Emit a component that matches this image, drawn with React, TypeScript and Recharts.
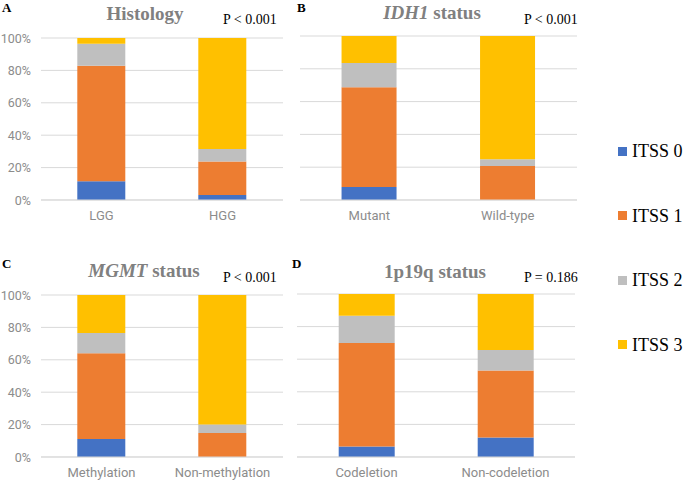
import React from "react";
import { BarChart, Bar, XAxis, YAxis, CartesianGrid } from "recharts";

const itssNames = ["ITSS 0", "ITSS 1", "ITSS 2", "ITSS 3"];
const itssColors = ["#4472C4", "#ED7D31", "#BFBFBF", "#FFC000"];
const yTicks = [0, 20, 40, 60, 80, 100];

// each row = one ITSS level, values per category (percent)
const histologyCategories = ["LGG", "HGG"];
const histologyValues = [
  [11.5, 3.1],
  [71.4, 20.6],
  [13.6, 7.8],
  [3.5, 68.5],
];

const idh1Categories = ["Mutant", "Wild-type"];
const idh1Values = [
  [7.9, 0],
  [60.8, 20.7],
  [14.8, 4.1],
  [16.5, 75.2],
];

const mgmtCategories = ["Methylation", "Non-methylation"];
const mgmtValues = [
  [11.1, 0],
  [53.0, 14.8],
  [12.4, 5.2],
  [23.5, 80.0],
];

const codelCategories = ["Codeletion", "Non-codeletion"];
const codelValues = [
  [6.5, 11.9],
  [63.4, 41.1],
  [16.8, 12.6],
  [13.3, 34.4],
];

const pValues = ["P < 0.001", "P < 0.001", "P < 0.001", "P = 0.186"];

function buildRows(categories: string[], values: number[][]) {
  return categories.map((c, i) => {
    const row: any = { name: c };
    itssNames.forEach((n, k) => {
      row[n] = values[k][i];
    });
    return row;
  });
}

const tickFont = "Roboto, 'Liberation Sans', sans-serif";
const serif = "'Liberation Serif', 'DejaVu Serif', serif";

function XTick(props: any) {
  const { x, y, payload } = props;
  return (
    <text x={x} y={y + 20} textAnchor="middle" fill="#8c8c8c" fontSize={13} fontFamily={tickFont}>
      {payload.value}
    </text>
  );
}

function YTick(props: any) {
  const { x, y, payload } = props;
  return (
    <text x={x - 10} y={y + 4.5} textAnchor="end" fill="#8c8c8c" fontSize={12.5} fontFamily={tickFont}>
      {payload.value + "%"}
    </text>
  );
}

function Panel(props: any) {
  const { left, top, width, height, margin, showY, xHeight, categories, values } = props;
  const data = buildRows(categories, values);
  return (
    <div style={{ position: "absolute", left, top }}>
      <BarChart width={width} height={height} data={data} margin={margin} barCategoryGap="30%">
        <CartesianGrid vertical={false} stroke="#d9d9d9" />
        <XAxis
          dataKey="name"
          height={xHeight}
          tickLine={false}
          tickSize={0}
          tickMargin={0}
          axisLine={{ stroke: "#d9d9d9" }}
          tick={<XTick />}
          interval={0}
        />
        <YAxis
          hide={!showY}
          width={showY ? 41 : 0}
          domain={[0, 100]}
          ticks={yTicks}
          axisLine={false}
          tickLine={false}
          tickSize={0}
          tickMargin={0}
          tick={<YTick />}
        />
        {itssNames.map((n, k) => (
          <Bar key={n} dataKey={n} stackId="a" fill={itssColors[k]} isAnimationActive={false} />
        ))}
      </BarChart>
    </div>
  );
}

// y is the text baseline
function Txt(props: any) {
  const { x, y, size, children, bold, color, anchor } = props;
  return (
    <div
      style={{
        position: "absolute",
        left: anchor === "middle" ? x - 150 : x,
        width: anchor === "middle" ? 300 : undefined,
        textAlign: anchor === "middle" ? "center" : "left",
        top: Math.max(0, y - 0.9125 * size),
        fontSize: size,
        lineHeight: `${size * 1.15}px`,
        fontFamily: serif,
        fontWeight: bold ? "bold" : "normal",
        color: color || "#000",
        whiteSpace: "nowrap",
      }}
    >
      {children}
    </div>
  );
}

export default function App() {
  return (
    <div style={{ position: "absolute", left: 0, top: 0, width: 685, height: 481, background: "#fff", overflow: "hidden" }}>
      <Panel
        left={0}
        top={0}
        width={290}
        height={230}
        margin={{ top: 38, right: 7, left: 0, bottom: 0 }}
        showY
        xHeight={30}
        categories={histologyCategories}
        values={histologyValues}
      />
      <Panel
        left={285}
        top={0}
        width={300}
        height={230}
        margin={{ top: 36, right: 8, left: 15, bottom: 0 }}
        showY={false}
        xHeight={30}
        categories={idh1Categories}
        values={idh1Values}
      />
      <Panel
        left={0}
        top={235}
        width={290}
        height={246}
        margin={{ top: 60, right: 7, left: 0, bottom: 0 }}
        showY
        xHeight={24}
        categories={mgmtCategories}
        values={mgmtValues}
      />
      <Panel
        left={285}
        top={235}
        width={300}
        height={246}
        margin={{ top: 59, right: 10, left: 12, bottom: 0 }}
        showY={false}
        xHeight={24}
        categories={codelCategories}
        values={codelValues}
      />

      {/* panel letters */}
      <Txt x={2} y={13} size={13} bold>A</Txt>
      <Txt x={297} y={13} size={13} bold>B</Txt>
      <Txt x={2} y={269} size={13} bold>C</Txt>
      <Txt x={292} y={269} size={13} bold>D</Txt>

      {/* titles */}
      <Txt x={145} y={20} size={19} bold color="#808080" anchor="middle">Histology</Txt>
      <Txt x={432} y={19} size={19} bold color="#808080" anchor="middle">
        <i>IDH1</i> status
      </Txt>
      <Txt x={144} y={277} size={19} bold color="#808080" anchor="middle">
        <i>MGMT</i> status
      </Txt>
      <Txt x={435} y={278} size={19} bold color="#808080" anchor="middle">1p19q status</Txt>

      {/* p values */}
      <Txt x={223} y={25} size={14}>{pValues[0]}</Txt>
      <Txt x={524} y={25} size={14}>{pValues[1]}</Txt>
      <Txt x={223} y={283} size={14}>{pValues[2]}</Txt>
      <Txt x={524} y={283} size={14}>{pValues[3]}</Txt>

      {/* legend */}
      {itssNames.map((n, k) => (
        <div
          key={n}
          style={{
            position: "absolute",
            left: 618,
            top: 151 + k * 64.5 - 12,
            height: 24,
            display: "flex",
            alignItems: "center",
            whiteSpace: "nowrap",
          }}
        >
          <div style={{ width: 9, height: 9, background: itssColors[k], marginRight: 5, flex: "none" }} />
          <span style={{ fontFamily: serif, fontSize: 18, color: "#000", lineHeight: "24px" }}>{n}</span>
        </div>
      ))}
    </div>
  );
}
